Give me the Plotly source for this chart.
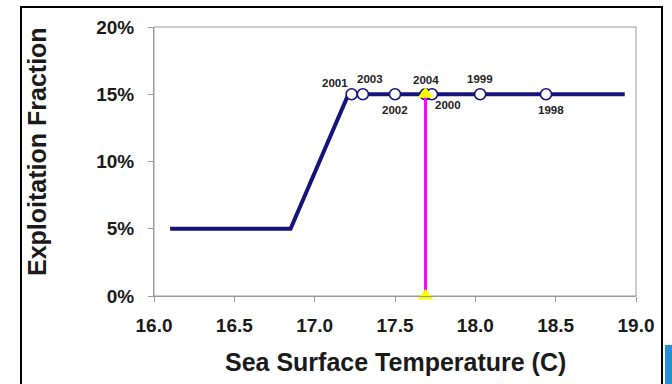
import plotly.graph_objects as go

# Harvest control rule: exploitation fraction vs sea surface temperature
rule_sst = [16.10, 16.85, 17.21, 18.93]
rule_frac = [0.05, 0.05, 0.15, 0.15]

# Yearly observed SST on the rule
years = ["2001", "2003", "2002", "2004", "2000", "1999", "1998"]
year_sst = [17.23, 17.30, 17.50, 17.69, 17.73, 18.03, 18.44]
year_frac = [0.15, 0.15, 0.15, 0.15, 0.15, 0.15, 0.15]
# label offsets in pixels (x, y) for each year
label_dx = [-17, 7, 0, 0, 16, 0, 5]
label_dy = [11, 15, -16, 14, -11, 15, -16]

# Current year indicator
current_sst = 17.69
current_frac = [0.0, 0.15]

navy = "#14147a"
font_family = "Liberation Sans, Arial, sans-serif"

fig = go.Figure()

fig.add_trace(go.Scatter(
    x=rule_sst, y=rule_frac, mode="lines",
    line=dict(color=navy, width=4), hoverinfo="skip", showlegend=False,
))

fig.add_trace(go.Scatter(
    x=year_sst, y=year_frac, mode="markers",
    marker=dict(symbol="circle", size=11, color="white",
                line=dict(color=navy, width=1.5)),
    showlegend=False,
))

fig.add_trace(go.Scatter(
    x=[current_sst, current_sst], y=current_frac, mode="lines+markers",
    line=dict(color="#ff00ff", width=3),
    marker=dict(symbol="triangle-up", size=14, color="#ffff00",
                line=dict(width=0)),
    cliponaxis=False, showlegend=False,
))

for yr, xs, ys, dx, dy in zip(years, year_sst, year_frac, label_dx, label_dy):
    fig.add_annotation(
        x=xs, y=ys, text=yr, showarrow=False,
        xshift=dx, yshift=dy,
        font=dict(family=font_family, size=11.5, color="#222222", weight="bold"),
    )

# Plot-area geometry in pixels, used to place the frame and titles
W, H = 672, 384
ml, mr, mt, mb = 154, 36, 27, 88
pw, ph = W - ml - mr, H - mt - mb

def px_to_paper_x(px):
    return (px - ml) / pw

def px_to_paper_y(py):
    return (H - mb - py) / ph

# Axis titles
fig.add_annotation(
    xref="paper", yref="paper",
    x=px_to_paper_x(37), y=px_to_paper_y(152),
    text="Exploitation Fraction", textangle=-90, showarrow=False,
    xanchor="center", yanchor="middle",
    font=dict(family=font_family, size=25, color="#1a1a1a", weight="bold"),
)
fig.add_annotation(
    xref="paper", yref="paper",
    x=px_to_paper_x(395), y=px_to_paper_y(362),
    text="Sea Surface Temperature (C)", showarrow=False,
    xanchor="center", yanchor="middle",
    font=dict(family=font_family, size=25, color="#1a1a1a", weight="bold"),
)

fig.add_shape(
    type="rect", xref="paper", yref="paper",
    x0=px_to_paper_x(21), x1=px_to_paper_x(662),
    y0=px_to_paper_y(390), y1=px_to_paper_y(7),
    line=dict(color="black", width=2), fillcolor="rgba(0,0,0,0)",
    layer="below",
)
# Plot-area border
fig.add_shape(
    type="rect", xref="paper", yref="paper", x0=0, x1=1, y0=0, y1=1,
    line=dict(color="#9a9a9a", width=1), layer="below",
)
# Corner logo fragment
fig.add_shape(
    type="rect", xref="paper", yref="paper",
    x0=px_to_paper_x(665), x1=px_to_paper_x(672),
    y0=px_to_paper_y(384), y1=px_to_paper_y(345),
    line=dict(width=0), fillcolor="#2a8fd0",
)

fig.update_layout(
    width=W, height=H,
    margin=dict(l=ml, r=mr, t=mt, b=mb),
    paper_bgcolor="white", plot_bgcolor="white",
    font=dict(family=font_family, color="#1a1a1a"),
    xaxis=dict(
        range=[16, 19], dtick=0.5, tick0=16, tickformat=".1f",
        showgrid=False, zeroline=False,
        showline=True, linecolor="#9a9a9a", linewidth=1,
        ticks="outside", ticklen=5, tickcolor="#9a9a9a",
        ticklabelstandoff=7,
        tickfont=dict(size=19, weight="bold"),
    ),
    yaxis=dict(
        range=[0, 0.2], dtick=0.05, tickformat=".0%",
        showgrid=False, zeroline=False,
        showline=True, linecolor="#9a9a9a", linewidth=1,
        ticks="outside", ticklen=5, tickcolor="#9a9a9a",
        ticklabelstandoff=10,
        tickfont=dict(size=19, weight="bold"),
    ),
)

fig.write_html("out.html")
